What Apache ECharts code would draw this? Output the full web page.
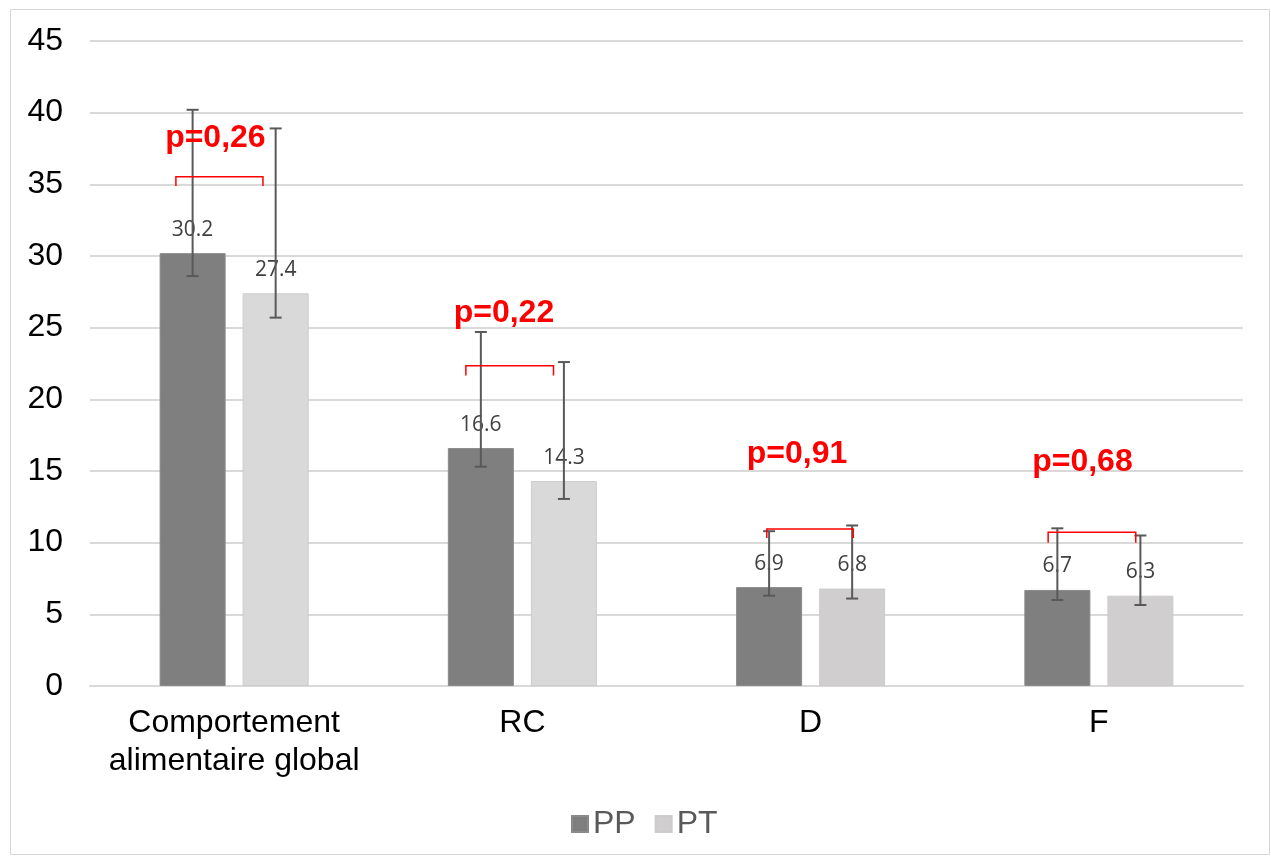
<!DOCTYPE html>
<html>
<head>
<meta charset="utf-8">
<script src="https://cdn.jsdelivr.net/npm/echarts@6/dist/echarts.min.js"></script>
<style>
  html, body { margin: 0; padding: 0; background: #ffffff; }
  #chart { width: 1271px; height: 857px; }
</style>
</head>
<body>
<div id="chart"></div>
<script>
// Categories and group means
const categories = ['Comportement\nalimentaire global', 'RC', 'D', 'F'];
const ppValues = [30.2, 16.6, 6.9, 6.7];
const ptValues = [27.4, 14.3, 6.8, 6.3];

// Error bar extents (low, high) per group
const ppLow = [28.6, 15.3, 6.3, 6.0];
const ppHigh = [40.2, 24.7, 10.8, 11.0];
const ptLow = [25.7, 13.05, 6.1, 5.65];
const ptHigh = [38.9, 22.6, 11.2, 10.5];

// Significance brackets (x in category units on a 0..4 scale, y in values)
const pLabels = ['p=0,26', 'p=0,22', 'p=0,91', 'p=0,68'];
const pLabelX = [0.435, 1.436, 2.453, 3.443];
const pLabelY = [38.2, 26.0, 16.2, 15.6];
const bracketLeft = [0.298, 1.304, 2.348, 3.324];
const bracketRight = [0.600, 1.608, 2.648, 3.628];
const bracketTop = [35.53, 22.35, 10.95, 10.72];
const bracketFoot = [34.88, 21.67, 10.33, 10.0];

// Y axis ticks
const yMin = 0, yMax = 45, yStep = 5;

const BAR_FRAC = 0.229;   // bar width as a fraction of the category band
const BAR_GAP = 0.258;    // gap between the two bars, relative to bar width
const offsetFrac = BAR_FRAC * (1 + BAR_GAP) / 2;

const chart = echarts.init(document.getElementById('chart'), null, { renderer: 'canvas' });

function errorBarRenderer(sign) {
  return function (params, api) {
    const i = api.value(0);
    const lowPt = api.coord([i, api.value(1)]);
    const highPt = api.coord([i, api.value(2)]);
    const band = api.size([1, 0])[0];
    const x = lowPt[0] + sign * band * offsetFrac;
    const cap = 6;
    const style = { stroke: '#595959', lineWidth: 2 };
    return {
      type: 'group',
      children: [
        { type: 'line', shape: { x1: x, y1: lowPt[1], x2: x, y2: highPt[1] }, style: style },
        { type: 'line', shape: { x1: x - cap, y1: highPt[1], x2: x + cap, y2: highPt[1] }, style: style },
        { type: 'line', shape: { x1: x - cap, y1: lowPt[1], x2: x + cap, y2: lowPt[1] }, style: style }
      ]
    };
  };
}

const ptColors = ['#d9d9d9', '#d9d9d9', '#d0cece', '#d0cece'];

const option = {
  animation: false,
  backgroundColor: '#ffffff',
  graphic: [{
    type: 'rect',
    silent: true,
    z: -10,
    shape: { x: 10.5, y: 9.5, width: 1259, height: 845 },
    style: { fill: 'none', stroke: '#d9d9d9', lineWidth: 1 }
  }],
  grid: { left: 90, right: 28, top: 41, bottom: 171, containLabel: false },
  legend: {
    data: ['PP', 'PT'],
    bottom: 12,
    left: 566,
    itemWidth: 16,
    itemHeight: 16,
    itemGap: 19,
    icon: 'rect',
    textStyle: { fontFamily: 'Liberation Sans', fontSize: 32, color: '#595959' }
  },
  xAxis: [{
    type: 'category',
    data: categories,
    axisLine: { lineStyle: { color: '#d9d9d9', width: 2 } },
    axisTick: { show: false },
    axisLabel: {
      fontFamily: 'Liberation Sans',
      fontSize: 32,
      color: '#000000',
      lineHeight: 38,
      margin: 18,
      interval: 0
    }
  }, {
    type: 'value',
    min: 0,
    max: 4,
    show: false
  }],
  yAxis: {
    type: 'value',
    min: yMin,
    max: yMax,
    interval: yStep,
    axisLine: { show: false },
    axisTick: { show: false },
    splitLine: { lineStyle: { color: '#d9d9d9', width: 2 } },
    axisLabel: {
      fontFamily: 'Liberation Sans',
      fontSize: 32,
      color: '#000000',
      margin: 27
    }
  },
  series: [
    {
      name: 'PP',
      type: 'bar',
      data: ppValues,
      barWidth: (BAR_FRAC * 100) + '%',
      barGap: (BAR_GAP * 100) + '%',
      itemStyle: { color: '#7f7f7f', borderColor: '#8a8a8a', borderWidth: 1 },
      label: {
        show: true,
        position: 'top',
        distance: 13,
        fontFamily: 'Open Sans',
        fontSize: 21,
        color: '#404040'
      },
      z: 2
    },
    {
      name: 'PT',
      type: 'bar',
      data: ptValues.map((v, i) => ({ value: v, itemStyle: { color: ptColors[i] } })),
      barWidth: (BAR_FRAC * 100) + '%',
      barGap: (BAR_GAP * 100) + '%',
      itemStyle: { color: '#d0cece', borderColor: '#cccccc', borderWidth: 1 },
      label: {
        show: true,
        position: 'top',
        distance: 13,
        fontFamily: 'Open Sans',
        fontSize: 21,
        color: '#404040'
      },
      z: 2
    },
    {
      name: 'PP error',
      type: 'custom',
      renderItem: errorBarRenderer(-1),
      data: ppValues.map((_, i) => [i, ppLow[i], ppHigh[i]]),
      encode: { x: 0, y: [1, 2] },
      z: 5,
      silent: true
    },
    {
      name: 'PT error',
      type: 'custom',
      renderItem: errorBarRenderer(1),
      data: ptValues.map((_, i) => [i, ptLow[i], ptHigh[i]]),
      encode: { x: 0, y: [1, 2] },
      z: 5,
      silent: true
    },
    {
      name: 'brackets',
      type: 'custom',
      xAxisIndex: 1,
      silent: true,
      z: 6,
      renderItem: function (params, api) {
        const a = api.coord([api.value(0), api.value(2)]);
        const b = api.coord([api.value(1), api.value(3)]);
        const t = api.coord([api.value(4), api.value(5)]);
        const foot = b[1];
        const style = { stroke: '#ff0000', lineWidth: 1.5, fill: 'none' };
        return {
          type: 'group',
          children: [
            {
              type: 'polyline',
              shape: { points: [[a[0], foot], [a[0], a[1]], [b[0], a[1]], [b[0], foot]] },
              style: style
            },
            {
              type: 'text',
              x: t[0],
              y: t[1],
              style: {
                text: pLabels[params.dataIndex],
                fill: '#ff0000',
                font: 'bold 32px "Liberation Sans"',
                align: 'center',
                verticalAlign: 'middle'
              }
            }
          ]
        };
      },
      data: pLabels.map((_, i) => [bracketLeft[i], bracketRight[i], bracketTop[i], bracketFoot[i], pLabelX[i], pLabelY[i]]),
      encode: { x: [0, 1], y: [2, 3] }
    }
  ]
};

chart.setOption(option);
</script>
</body>
</html>
